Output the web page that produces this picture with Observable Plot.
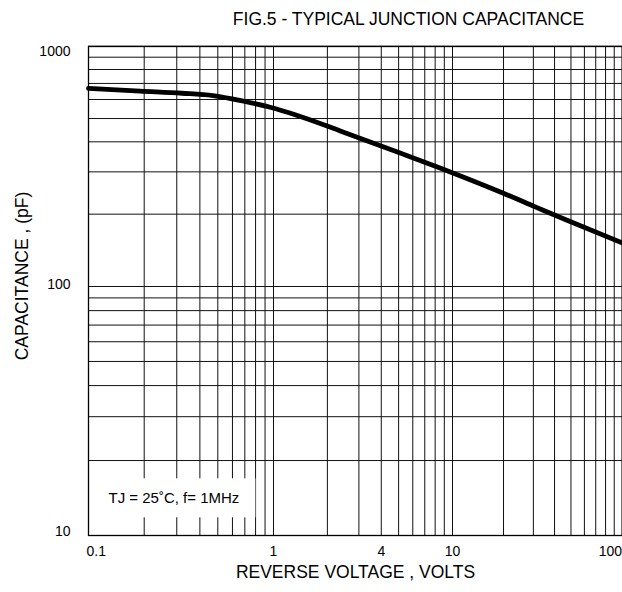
<!DOCTYPE html>
<html>
<head>
<meta charset="utf-8">
<script src="https://cdn.jsdelivr.net/npm/d3@7"></script>
<script src="https://cdn.jsdelivr.net/npm/@observablehq/plot@0.6"></script>
<style>
  html, body { margin: 0; padding: 0; background: #fff; }
  svg { display: block; font-family: "Liberation Sans", Arial, sans-serif; }
</style>
</head>
<body>
<script>
// Curve (reverse voltage in V, capacitance in pF)
const voltage     = [0.1, 0.19, 0.32, 0.47, 0.69, 0.96, 1.36, 2.4, 5.1, 9.8, 19, 31.5, 47, 100];
const capacitance = [668, 650, 637, 623, 590, 557, 515, 442, 359, 299, 248, 213, 189, 152];

// Grid lines and tick labels
const xGrid = [0.1,0.2,0.3,0.4,0.5,0.6,0.7,0.8,0.9,1,2,3,4,5,6,7,8,9,10,20,30,40,50,60,70,80,90,100];
const yGrid = [10,20,30,40,50,60,70,80,90,100,200,300,400,500,600,700,800,900,1000];
const xTickLabels = [0.1, 1, 4, 10, 100];
const yTickLabels = [10, 100, 1000];

const title = "FIG.5 - TYPICAL JUNCTION CAPACITANCE";
const xLabel = "REVERSE VOLTAGE , VOLTS";
const yLabel = "CAPACITANCE , (pF)";
const note = "TJ = 25˚C, f= 1MHz";

const curve = voltage.map((v, i) => ({v, c: capacitance[i]}));
const fmt = d => String(d);
const tickFont = 14;

const svg = Plot.plot({
  width: 622,
  height: 592,
  marginTop: 46,
  marginBottom: 57,
  marginLeft: 88,
  marginRight: 0,
  style: {fontFamily: '"Liberation Sans", Arial, sans-serif', background: "#fff"},
  x: {type: "log", domain: [0.1, 1, 10, 100], range: [88, 273, 452, 621.5], axis: null},
  y: {type: "log", domain: [10, 100, 1000], range: [535, 286, 45.7], axis: null},
  marks: [
    Plot.ruleX(xGrid, {x: d => d, stroke: "#111", strokeWidth: 1}),
    Plot.ruleY(yGrid, {y: d => d, stroke: "#111", strokeWidth: 1}),
    Plot.frame({stroke: "#000", strokeWidth: 1.3}),
    Plot.line(curve, {x: "v", y: "c", stroke: "#000", strokeWidth: 4.8, curve: "monotone-x"}),
    Plot.text([note], {frameAnchor: "bottom-left", dx: 20, dy: -37, textAnchor: "start", lineAnchor: "middle", fontSize: 15, fill: "#000"}),
    // y tick labels
    Plot.text(yTickLabels.slice(-1), {y: d => d, text: fmt, frameAnchor: "left", dx: -18, textAnchor: "end", lineAnchor: "top", fontSize: tickFont, fill: "#000"}),
    Plot.text(yTickLabels.slice(1, -1), {y: d => d, text: fmt, frameAnchor: "left", dx: -18, dy: -1.5, textAnchor: "end", lineAnchor: "middle", fontSize: tickFont, fill: "#000"}),
    Plot.text(yTickLabels.slice(0, 1), {y: d => d, text: fmt, frameAnchor: "left", dx: -18, textAnchor: "end", lineAnchor: "bottom", fontSize: tickFont, fill: "#000"}),
    // x tick labels
    Plot.text(xTickLabels.slice(1, -1), {x: d => d, text: fmt, frameAnchor: "bottom", dy: 16, lineAnchor: "middle", fontSize: tickFont, fill: "#000"}),
    Plot.text(xTickLabels.slice(0, 1), {x: d => d, text: fmt, frameAnchor: "bottom", dy: 16, dx: -2, textAnchor: "start", lineAnchor: "middle", fontSize: tickFont, fill: "#000"}),
    Plot.text(xTickLabels.slice(-1), {x: d => d, text: fmt, frameAnchor: "bottom", dy: 16, dx: 0, textAnchor: "end", lineAnchor: "middle", fontSize: tickFont, fill: "#000"}),
    // axis titles
    Plot.text([xLabel], {frameAnchor: "bottom", dy: 37, lineAnchor: "middle", fontSize: 17.5, fill: "#000"}),
    Plot.text([yLabel], {frameAnchor: "left", dx: -66, dy: -15, rotate: -90, textAnchor: "middle", lineAnchor: "middle", fontSize: 17.5, fill: "#000"}),
    // title
    Plot.text([title], {frameAnchor: "top", dx: 53, dy: -27, lineAnchor: "middle", fontSize: 17.5, fill: "#000"})
  ]
});
document.body.append(svg);

// white box behind the conditions note
const t = [...svg.querySelectorAll("text")].find(e => e.textContent.includes("MHz"));
if (t) {
  const bb = t.getBBox();
  const r = document.createElementNS("http://www.w3.org/2000/svg", "rect");
  r.setAttribute("x", bb.x - 10);
  r.setAttribute("y", bb.y - 11);
  r.setAttribute("width", bb.width + 26);
  r.setAttribute("height", bb.height + 22);
  r.setAttribute("fill", "#fff");
  const tr = t.getAttribute("transform");
  if (tr) r.setAttribute("transform", tr);
  t.parentNode.insertBefore(r, t);
}
</script>
</body>
</html>
